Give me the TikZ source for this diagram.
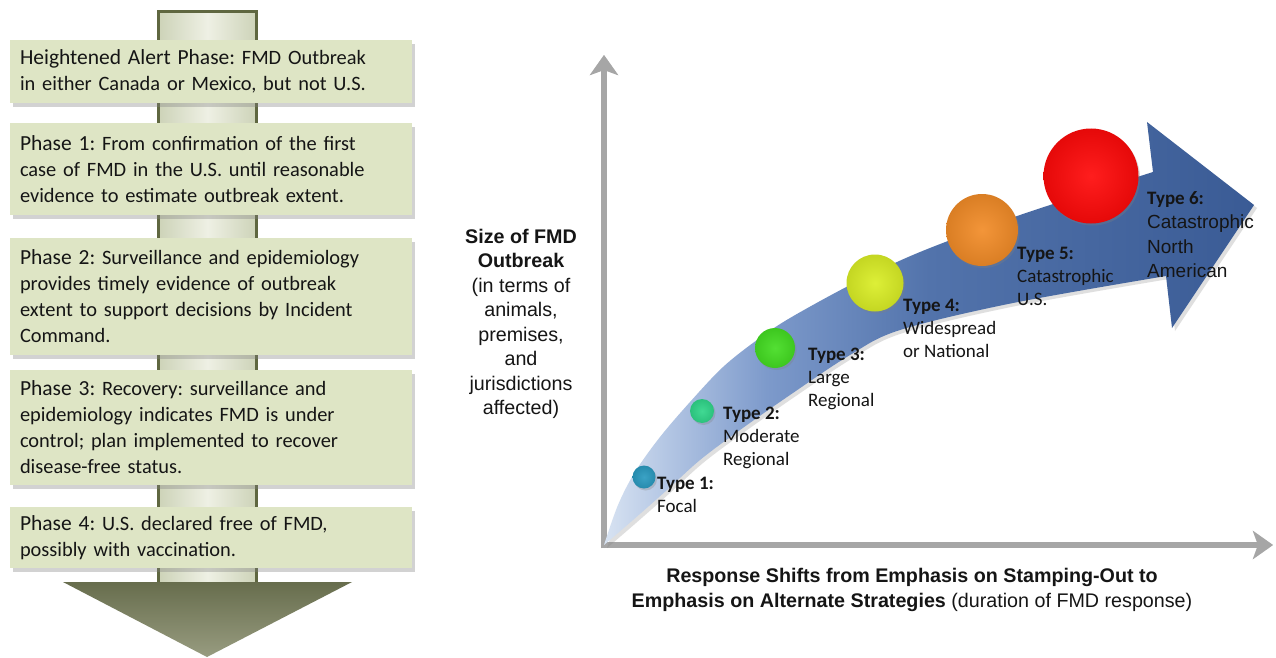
\documentclass[tikz,border=0pt]{standalone}
\usepackage{fontspec}
\setmainfont{Carlito}
\newfontfamily\arialf{Liberation Sans}
\newcommand\phz{\fontsize{21.5}{26}\selectfont}
\usetikzlibrary{shadows,arrows.meta}
\definecolor{boxgreen}{HTML}{DEE5C5}
\definecolor{shaftedge}{HTML}{5F6740}
\definecolor{shaftlight}{HTML}{EEF0E4}
\definecolor{shaftmid}{HTML}{CDD3B8}
\definecolor{headtop}{HTML}{676D4D}
\definecolor{headbot}{HTML}{989C80}
\definecolor{axisgray}{HTML}{A6A6A6}
\definecolor{bs0}{HTML}{D8E3F2}
\definecolor{bs1}{HTML}{B2C5E3}
\definecolor{bs2}{HTML}{7D9ACB}
\definecolor{bs3}{HTML}{5273AB}
\definecolor{bs4}{HTML}{3A5B95}
\pgfdeclarehorizontalshading{bandshade}{100bp}{color(0bp)=(bs0); color(25bp)=(bs0); color(30bp)=(bs1); color(37.5bp)=(bs2); color(50bp)=(bs3); color(75bp)=(bs4); color(100bp)=(bs4)}
\definecolor{tA}{HTML}{2A9AC0}
\definecolor{tB}{HTML}{30D68A}
\definecolor{tC}{HTML}{44DD22}
\definecolor{tD}{HTML}{DAEE26}
\definecolor{tE}{HTML}{F28C28}
\definecolor{tF}{HTML}{FF0A0A}
\definecolor{ink}{HTML}{151515}
\begin{document}
\frenchspacing
\begin{tikzpicture}[x=1pt,y=-1pt,
  phasebox/.style={rectangle, fill=boxgreen, minimum width=402pt, text width=382pt,
    inner xsep=10pt, inner ysep=0pt, align=left, text=ink,
    font=\fontsize{20.4}{26}\selectfont,
    drop shadow={opacity=0.35, shadow xshift=3pt, shadow yshift=-4pt}},
  circ/.style={circle, inner sep=0pt, draw=none,
    drop shadow={opacity=0.3, shadow xshift=1.5pt, shadow yshift=-2pt}},
  tlab/.style={anchor=north west, inner sep=0pt, align=left, text=ink,
    font=\fontsize{19}{23}\selectfont},
  axisline/.style={draw=axisgray, line width=6pt,
    -{Stealth[length=20pt,width=28pt,inset=5pt]}},
  axislabel/.style={align=center, text=ink, inner sep=0pt,
    font=\arialf\fontsize{19.7}{24.5}\selectfont}]
\useasboundingbox (0,0) rectangle (1276,658);
\fill[white] (0,0) rectangle (1276,658);

% ---------- left: background arrow ----------
\path[left color=shaftmid, right color=shaftmid, middle color=shaftlight,
  draw=shaftedge, line width=3pt] (158.5,11.5) rectangle (256.5,590);
\path[top color=headtop, bottom color=headbot] (63,582) -- (352,582) -- (207,657) -- cycle;

% ---------- phase boxes ----------
\node[phasebox, minimum height=63pt] (b0) at (211,71.5)
  {{\phz Heightened Alert Phase:} FMD Outbreak\\in either Canada or Mexico, but not U.S.};
\node[phasebox, minimum height=92pt] (b1) at (211,169)
  {{\phz Phase 1:} From confirmation of the first\\case of FMD in the U.S. until reasonable\\evidence to estimate outbreak extent.};
\node[phasebox, minimum height=117pt] (b2) at (211,296.5)
  {{\phz Phase 2:} Surveillance and epidemiology\\provides timely evidence of outbreak\\extent to support decisions by Incident\\Command.};
\node[phasebox, minimum height=115pt] (b3) at (211,427.5)
  {{\phz Phase 3:} Recovery: surveillance and\\epidemiology indicates FMD is under\\control; plan implemented to recover\\disease-free status.};
\node[phasebox, minimum height=61pt] (b4) at (211,537.5)
  {{\phz Phase 4:} U.S. declared free of FMD,\\possibly with vaccination.};

% ---------- right: axes ----------
\coordinate (origin) at (604,545);
\coordinate (ybase) at (604,548);
\coordinate (ytip) at (604,55);
\coordinate (xbase) at (601,545);
\coordinate (xtip) at (1273,545);
\begin{scope}[xshift=2pt,yshift=-3pt,opacity=0.35]
  \draw[axisline, draw=gray, fill=gray] (ybase) -- (ytip);
  \draw[axisline, draw=gray, fill=gray] (xbase) -- (xtip);
\end{scope}
\draw[axisline, fill=axisgray] (ybase) -- (ytip);
\draw[axisline, fill=axisgray] (xbase) -- (xtip);

% ---------- blue curved arrow ----------
\path[shading=bandshade,
  drop shadow={opacity=0.25, shadow xshift=3pt, shadow yshift=-3pt}]
  (604,545) -- plot[smooth,tension=0.55] coordinates {(604,545)(618,505)(635,472)(660,437)(690,402)(723,367)(757,340)(790,318)(854,283)(920,252)(1020,215)(1153,172)}
  -- (1147,122) -- (1254,205) -- (1172,328) -- (1166,276)
  -- plot[smooth,tension=0.55] coordinates {(1166,276)(1013,303)(900,330)(850,355)(790,395)(740,430)(700,460)(667,490)(633,520)(604,545)}
  -- cycle;

% ---------- circles ----------
\node[circ, inner color=tA!92!white, outer color=tA!90!black, minimum size=23pt] (c1) at (644,477) {};
\node[circ, inner color=tB!92!white, outer color=tB!90!black, minimum size=24pt] (c2) at (702,411) {};
\node[circ, inner color=tC!92!white, outer color=tC!90!black, minimum size=40pt] (c3) at (775,348) {};
\node[circ, inner color=tD!92!white, outer color=tD!90!black, minimum size=57pt] (c4) at (875,283) {};
\node[circ, inner color=tE!92!white, outer color=tE!90!black, minimum size=72pt] (c5) at (982,230) {};
\node[circ, inner color=tF!92!white, outer color=tF!90!black, minimum size=95pt] (c6) at (1091,176) {};

% ---------- type labels ----------
\node[tlab] (l1) at (657,477) {\textbf{Type 1:}\\Focal};
\node[tlab] (l2) at (723,407) {\textbf{Type 2:}\\Moderate\\Regional};
\node[tlab] (l3) at (808,348) {\textbf{Type 3:}\\Large\\Regional};
\node[tlab] (l4) at (903,299) {\textbf{Type 4:}\\Widespread\\or National};
\node[tlab] (l5) at (1017,247) {\textbf{Type 5:}\\Catastrophic\\U.S.};
\node[tlab, font=\fontsize{19}{24.5}\selectfont] (l6) at (1147,191)
  {\textbf{Type 6:}\\{\arialf Catastrophic}\\{\arialf North}\\{\arialf American}};

% ---------- axis labels ----------
\node[axislabel] (ylab) at (521,324)
  {\textbf{Size of FMD}\\\textbf{Outbreak}\\(in terms of\\animals,\\premises,\\and\\jurisdictions\\affected)};
\node[axislabel] (xlab) at (912,590)
  {\textbf{Response Shifts from Emphasis on Stamping-Out to}\\\textbf{Emphasis on Alternate Strategies} (duration of FMD response)};
\end{tikzpicture}
\end{document}
